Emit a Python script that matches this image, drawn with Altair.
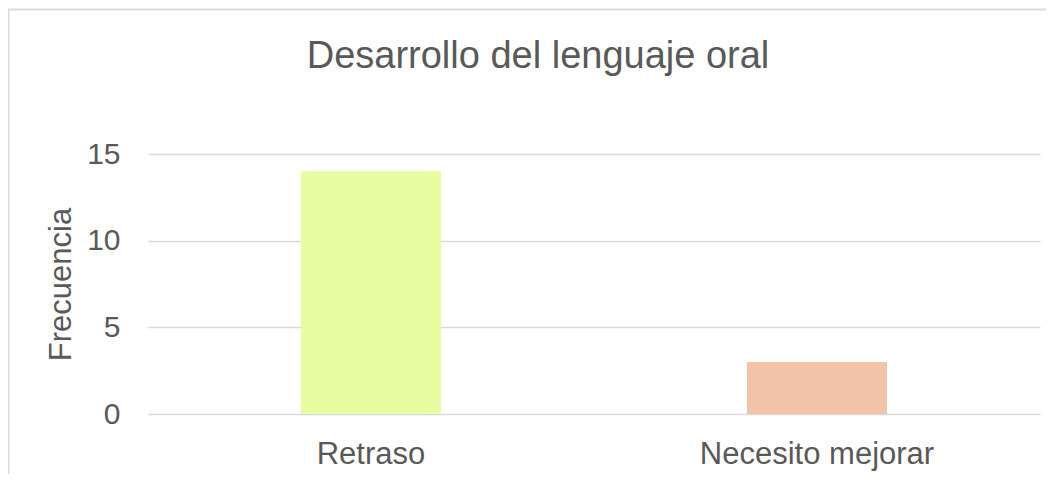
import altair as alt
import pandas as pd

categories = ["Retraso", "Necesito mejorar"]
values = [14, 3]
colors = ["#E6FDA2", "#F1C3A9"]
y_ticks = [0, 5, 10, 15]

df = pd.DataFrame({"cat": categories, "val": values, "color": colors})

FONT = "Liberation Sans"
TXT = "#595959"
GRID = "#D9D9D9"

bars = alt.Chart(df).mark_bar().encode(
    x=alt.X("cat:N", sort=categories,
            scale=alt.Scale(paddingInner=0.686, paddingOuter=0.343),
            axis=alt.Axis(title=None, labelAngle=0, labelFontSize=31, labelFont=FONT,
                          labelColor=TXT, labelPadding=25, ticks=False, domain=False,
                          grid=False, labelLimit=500)),
    y=alt.Y("val:Q", scale=alt.Scale(domain=[0, 15], nice=False),
            axis=alt.Axis(title="Frecuencia", values=y_ticks, labelFontSize=30,
                          labelFont=FONT, labelColor=TXT, labelPadding=28, ticks=False,
                          domain=False, grid=True, gridColor=GRID, gridWidth=1.5,
                          titleFont=FONT, titleFontSize=31, titleColor=TXT,
                          titleFontWeight="normal", titleBaseline="alphabetic",
                          titleX=-78, titleY=130, titleAngle=270)),
    color=alt.Color("color:N", scale=None),
)

border = alt.Chart(df).mark_rect(fill=None, stroke=GRID, strokeWidth=1.5).encode(
    x=alt.value(-139.5), x2=alt.value(1200), y=alt.value(-144.5), y2=alt.value(600)
)

chart = alt.layer(border, bars).properties(
    width=892,
    height=260,
    padding={"left": 140, "top": 146, "right": 6, "bottom": 60},
    autosize=alt.AutoSizeParams(type="none"),
    title=alt.TitleParams("Desarrollo del lenguaje oral", fontSize=38, font=FONT,
                          color=TXT, fontWeight="normal", anchor="middle", dx=-56,
                          baseline="alphabetic", offset=0, dy=97.5),
).configure_view(stroke=None)

chart.save("out.html", embed_options={"renderer": "svg", "actions": False})
